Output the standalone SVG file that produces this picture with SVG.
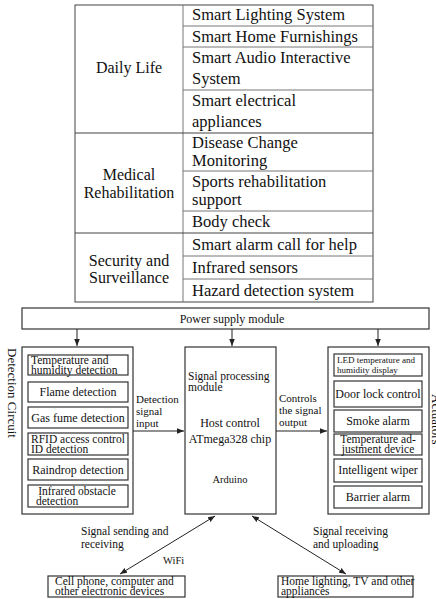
<svg xmlns="http://www.w3.org/2000/svg" width="436" height="599" viewBox="0 0 436 599" font-family="'Liberation Serif', 'DejaVu Serif', serif">
<style>
text{font-family:"Liberation Serif","DejaVu Serif",serif;fill:#111;}
.t16{font-size:16.5px;}
.t12{font-size:11.5px;}
.lb{font-size:11px;}
.t11{font-size:10.5px;}
.t10{font-size:9px;}
.c{text-anchor:middle;}
.box{fill:#fff;stroke:#333;stroke-width:1.2;}
.ib{fill:#fff;stroke:#333;stroke-width:1.2;}
.grid{stroke:#777;stroke-width:1;fill:none;}
.outer{stroke:#444;stroke-width:1;fill:none;}
.con{stroke:#222;stroke-width:1;fill:none;}
</style>
<defs>
<marker id="ah" viewBox="0 0 10 10" refX="10" refY="5" markerWidth="7" markerHeight="7" orient="auto-start-reverse" markerUnits="userSpaceOnUse">
<path d="M0,1 L10,5 L0,9 Z" fill="#222"/>
</marker>
</defs>
<rect width="436" height="599" fill="#fff"/>

<g id="table">
<rect class="outer" x="75" y="5" width="298" height="297"/>
<line class="grid" x1="183" y1="5" x2="183" y2="302"/>
<line class="grid" x1="183" y1="26" x2="373" y2="26"/>
<line class="grid" x1="183" y1="47" x2="373" y2="47"/>
<line class="grid" x1="183" y1="90" x2="373" y2="90"/>
<line class="outer" x1="75" y1="133" x2="373" y2="133"/>
<line class="grid" x1="183" y1="171" x2="373" y2="171"/>
<line class="grid" x1="183" y1="211" x2="373" y2="211"/>
<line class="outer" x1="75" y1="233" x2="373" y2="233"/>
<line class="grid" x1="183" y1="256" x2="373" y2="256"/>
<line class="grid" x1="183" y1="279" x2="373" y2="279"/>
<text class="c" x="129" y="73" style="font-size:16px">Daily Life</text>
<text class="c" x="129" y="180" style="font-size:16px">Medical</text>
<text class="c" x="129" y="198" style="font-size:16px">Rehabilitation</text>
<text class="c" x="129" y="266" style="font-size:16px">Security and</text>
<text class="c" x="129" y="283" style="font-size:16px">Surveillance</text>
<text class="t16" x="192" y="20">Smart Lighting System</text>
<text class="t16" x="192" y="42">Smart Home Furnishings</text>
<text class="t16" x="192" y="63">Smart Audio Interactive</text>
<text class="t16" x="192" y="84">System</text>
<text class="t16" x="192" y="106">Smart electrical</text>
<text class="t16" x="192" y="127">appliances</text>
<text class="t16" x="192" y="148">Disease Change</text>
<text class="t16" x="192" y="166">Monitoring</text>
<text class="t16" x="192" y="187">Sports rehabilitation</text>
<text class="t16" x="192" y="205">support</text>
<text class="t16" x="192" y="227">Body check</text>
<text class="t16" x="192" y="250">Smart alarm call for help</text>
<text class="t16" x="192" y="273">Infrared sensors</text>
<text class="t16" x="192" y="296">Hazard detection system</text>
</g>

<g id="power">
<rect class="box" x="22" y="308" width="407" height="21"/>
<text class="c" x="232" y="322.5" style="font-size:12px">Power supply module</text>
</g>

<g id="detection">
<rect class="box" x="22" y="347" width="111" height="167"/>
<text class="c" transform="translate(8,393) rotate(90)" style="font-size:13px">Detection Circuit</text>
<rect class="ib" x="28" y="355" width="100" height="20"/>
<text class="t12" x="31" y="364">Temperature and</text>
<text class="t12" x="31" y="373.5">humidity detection</text>
<rect class="ib" x="28" y="382" width="100" height="20"/>
<text class="c" x="78" y="396" style="font-size:12px">Flame detection</text>
<rect class="ib" x="28" y="407" width="100" height="21"/>
<text class="c" x="78" y="422" style="font-size:12px">Gas fume detection</text>
<rect class="ib" x="28" y="433" width="100" height="22"/>
<text class="t12" x="31" y="443">RFID access control</text>
<text class="t12" x="31" y="452.5">ID detection</text>
<rect class="ib" x="28" y="459" width="100" height="21"/>
<text class="c" x="78" y="474" style="font-size:12px">Raindrop detection</text>
<rect class="ib" x="28" y="485" width="100" height="22"/>
<text class="t12 c" x="77" y="495">Infrared obstacle</text>
<text class="t12" x="36" y="504.5">detection</text>
</g>

<g id="host">
<rect class="box" x="185" y="347" width="91" height="167"/>
<text class="t12" x="188" y="380">Signal processing</text>
<text class="t12" x="188" y="390.5">module</text>
<text class="c" x="230" y="427" style="font-size:12px">Host control</text>
<text class="c" x="230" y="443" style="font-size:12px">ATmega328 chip</text>
<text class="t11 c" x="230" y="483">Arduino</text>
</g>

<g id="actuators">
<rect class="box" x="328" y="347" width="101" height="167"/>
<text style="font-size:13px" transform="translate(432,394) rotate(90)">Actuators</text>
<rect class="ib" x="334" y="354" width="88" height="22"/>
<text class="t10" x="337" y="363">LED temperature and</text>
<text class="t10" x="337" y="372.5">humidity display</text>
<rect class="ib" x="334" y="381" width="88" height="26"/>
<text class="c" x="378" y="398" style="font-size:12px">Door lock control</text>
<rect class="ib" x="334" y="410" width="88" height="22"/>
<text class="c" x="378" y="425" style="font-size:12px">Smoke alarm</text>
<rect class="ib" x="334" y="434" width="88" height="21"/>
<text class="t12 c" x="378" y="443">Temperature ad-</text>
<text class="t12 c" x="378" y="452.5">justment device</text>
<rect class="ib" x="334" y="459" width="88" height="23"/>
<text class="c" x="378" y="474" style="font-size:12px">Intelligent wiper</text>
<rect class="ib" x="334" y="486" width="88" height="22"/>
<text class="c" x="378" y="501" style="font-size:12px">Barrier alarm</text>
</g>

<g id="phone">
<rect class="ib" x="48" y="576" width="137" height="21"/>
<text class="t12" x="55" y="585">Cell phone, computer and</text>
<text class="t12" x="55" y="594.5">other electronic devices</text>
</g>

<g id="home">
<rect class="ib" x="278" y="576" width="135" height="21"/>
<text class="t12" x="281" y="585">Home lighting, TV and other</text>
<text class="t12" x="281" y="594.5">appliances</text>
</g>

<g id="connectors">
<line class="con" x1="77" y1="329" x2="77" y2="346" marker-end="url(#ah)"/>
<line class="con" x1="232" y1="329" x2="232" y2="346" marker-end="url(#ah)"/>
<line class="con" x1="378" y1="329" x2="378" y2="346" marker-end="url(#ah)"/>
<line class="con" x1="133" y1="431" x2="184" y2="431" marker-end="url(#ah)"/>
<line class="con" x1="276" y1="431" x2="327" y2="431" marker-end="url(#ah)"/>
<line class="con" x1="215" y1="516" x2="120" y2="574" marker-start="url(#ah)" marker-end="url(#ah)"/>
<line class="con" x1="252" y1="516" x2="346" y2="574" marker-start="url(#ah)" marker-end="url(#ah)"/>
<text class="lb" x="136" y="403">Detection</text>
<text class="lb" x="136" y="415">signal</text>
<text class="lb" x="136" y="427">input</text>
<text class="lb" x="279" y="402">Controls</text>
<text class="lb" x="279" y="414">the signal</text>
<text class="lb" x="279" y="426">output</text>
<text class="t12" x="81" y="535">Signal sending and</text>
<text class="t12" x="81" y="548">receiving</text>
<text class="t11" x="163" y="564">WiFi</text>
<text class="t12" x="313" y="535">Signal receiving</text>
<text class="t12" x="313" y="548">and uploading</text>
</g>
</svg>
